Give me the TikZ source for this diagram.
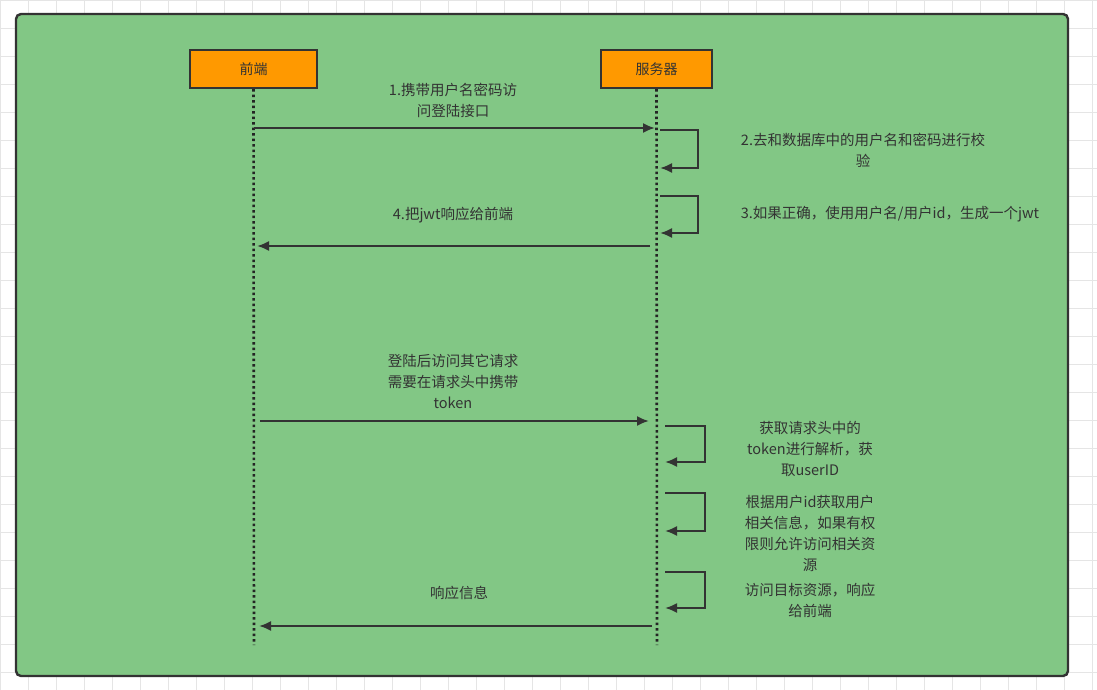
\documentclass[tikz,border=0pt]{standalone}
\usepackage{fontspec}
\setmainfont{Noto Sans CJK SC}
\usetikzlibrary{arrows.meta}
\definecolor{bgg}{HTML}{82C785}
\definecolor{org}{HTML}{FF9900}
\definecolor{ink}{HTML}{333333}
\begin{document}
\begin{tikzpicture}[x=1pt,y=-1pt,
  actor/.style={draw=ink,line width=2.4pt,fill=org,minimum width=127pt,minimum height=38pt,font=\fontsize{14}{16}\selectfont,text=ink},
  msg/.style={draw=ink,line width=2pt,-{Latex[length=12pt,width=10pt]}},
  life/.style={draw=ink!70!black,line width=2.6pt,dash pattern=on 2.5pt off 3pt},
  lbl/.style={font=\fontsize{14.5}{21}\selectfont,text=ink,align=center}]
\useasboundingbox (0,0) rectangle (1097,690);
\draw[gray!20,step=28pt] (0,0) grid (1097,690);
\draw[ink,line width=2.4pt,fill=bgg,rounded corners=5pt] (16,14) rectangle (1068,676);
\node[actor] (fe) at (253.5,69) {前端};
\node[actor,minimum width=111pt] (sv) at (656.5,69) {服务器};
\coordinate (feb) at (254,645); \coordinate (svb) at (657,645);
\draw[life] (fe.south) -- (feb);
\draw[life] (sv.south) -- (svb);
% messages
\coordinate (a1) at (254,128); \coordinate (b1) at (655,128);
\draw[msg] (a1) -- (b1);
\node[lbl] (l1) at (453,100) {1.携带用户名密码访\\问登陆接口};
\coordinate (c2) at (660,130); \coordinate (d2) at (660,168);
\draw[msg] (c2) -- (698,130) -- (698,168) -- (d2);
\node[lbl] (l2) at (863,150) {2.去和数据库中的用户名和密码进行校\\验};
\coordinate (c3) at (660,196); \coordinate (d3) at (660,233);
\draw[msg] (c3) -- (698,196) -- (698,233) -- (d3);
\node[lbl] (l3) at (890,214) {3.如果正确，使用用户名/用户id，生成一个jwt};
\coordinate (a4) at (650,246); \coordinate (b4) at (257,246);
\draw[msg] (a4) -- (b4);
\node[lbl] (l4) at (453,215) {4.把jwt响应给前端};
\coordinate (a5) at (260,421); \coordinate (b5) at (649,421);
\draw[msg] (a5) -- (b5);
\node[lbl] (l5) at (453,381) {登陆后访问其它请求\\需要在请求头中携带\\token};
\coordinate (c6) at (665,426); \coordinate (d6) at (665,462);
\draw[msg] (c6) -- (705,426) -- (705,462) -- (d6);
\node[lbl] (l6) at (810,449) {获取请求头中的\\token进行解析，获\\取userID};
\coordinate (c7) at (665,493); \coordinate (d7) at (665,531);
\draw[msg] (c7) -- (705,493) -- (705,531) -- (d7);
\node[lbl] (l7) at (810,533) {根据用户id获取用户\\相关信息，如果有权\\限则允许访问相关资\\源};
\coordinate (c8) at (665,572); \coordinate (d8) at (665,608);
\draw[msg] (c8) -- (705,572) -- (705,608) -- (d8);
\node[lbl] (l8) at (810,600) {访问目标资源，响应\\给前端};
\coordinate (a9) at (652,626); \coordinate (b9) at (259,626);
\draw[msg] (a9) -- (b9);
\node[lbl] (l9) at (459,593) {响应信息};
\end{tikzpicture}
\end{document}
